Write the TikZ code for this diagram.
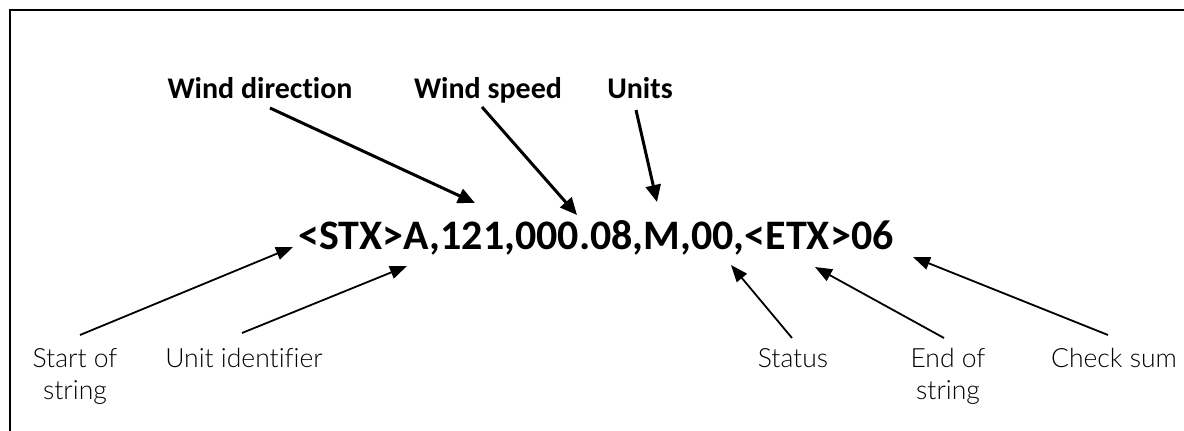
\documentclass[tikz,border=0pt]{standalone}
\usepackage{fontspec}
\setmainfont{Carlito}[Ligatures=NoCommon]
\newfontfamily\lightfont{Lato Light}[Ligatures=NoCommon]
\usetikzlibrary{arrows.meta}
\tikzset{
  toplabel/.style={font=\bfseries\fontsize{30}{34}\selectfont, inner sep=0pt, anchor=base},
  mainstr/.style={font=\bfseries\fontsize{42}{46}\selectfont, inner sep=0pt, anchor=base},
  botlabel/.style={font=\lightfont\fontsize{26.5}{32}\selectfont, inner sep=0pt, anchor=base, align=center},
  bigarrow/.style={line width=3pt, -{Triangle[length=17pt,width=15pt]}},
  smallarrow/.style={line width=1.8pt, -{Triangle[length=17pt,width=13pt]}},
  frame/.style={line width=2pt}
}
\begin{document}
\begin{tikzpicture}[x=1pt,y=-1pt]
\useasboundingbox (0,0) rectangle (1184,431);
\draw[frame] (10,431) -- (10,10) -- (1184,10);
% labels
\node[toplabel] (wdir) at (260,98) {Wind direction};
\node[toplabel] (wspd) at (488,98) {Wind speed};
\node[toplabel] (unit) at (640,98) {Units};
\node[mainstr] (str) at (596,249) {<STX>A,121,000.08,M,00,<ETX>06};
\node[botlabel] (sos) at (75,399) {Start of\\string};
\node[botlabel] (uid) at (244,367) {Unit identifier};
\node[botlabel] (sts) at (793,367) {Status};
\node[botlabel] (eos) at (948,399) {End of\\string};
\node[botlabel] (chk) at (1114,367) {Check sum};
% anchor coordinates
\coordinate (wdirS) at (270,108);
\coordinate (wdirT) at (475,203);
\coordinate (wspdS) at (482,107);
\coordinate (wspdT) at (577,215);
\coordinate (unitS) at (636,110);
\coordinate (unitT) at (657,202);
\coordinate (sosS) at (80,335);
\coordinate (sosT) at (293,247);
\coordinate (uidS) at (242,333);
\coordinate (uidT) at (407,266);
\coordinate (stsS) at (792,338);
\coordinate (stsT) at (731,265);
\coordinate (eosS) at (944,338);
\coordinate (eosT) at (815,267);
\coordinate (chkS) at (1108,335);
\coordinate (chkT) at (913,257);
\draw[bigarrow] (wdirS) -- (wdirT);
\draw[bigarrow] (wspdS) -- (wspdT);
\draw[bigarrow] (unitS) -- (unitT);
\draw[smallarrow] (sosS) -- (sosT);
\draw[smallarrow] (uidS) -- (uidT);
\draw[smallarrow] (stsS) -- (stsT);
\draw[smallarrow] (eosS) -- (eosT);
\draw[smallarrow] (chkS) -- (chkT);
\end{tikzpicture}
\end{document}
